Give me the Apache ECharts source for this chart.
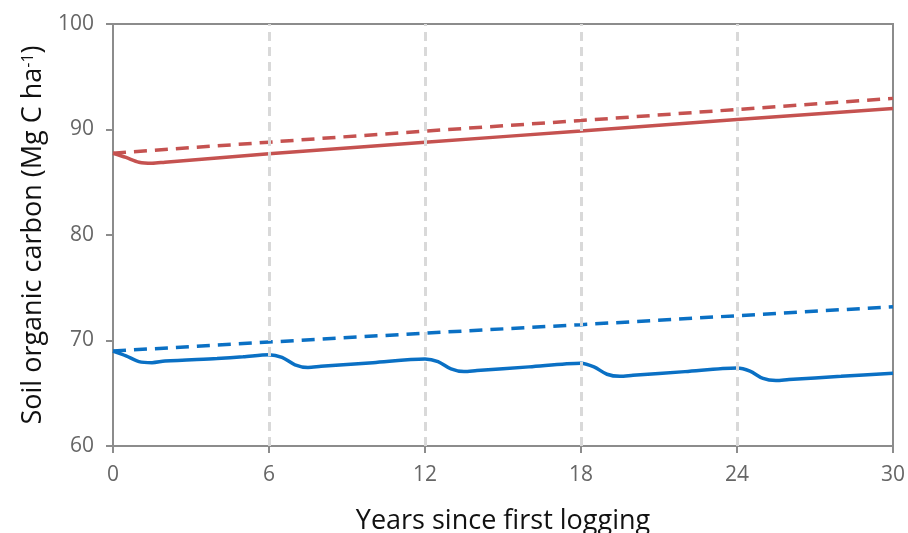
<!DOCTYPE html>
<html>
<head>
<meta charset="utf-8">
<script src="https://cdn.jsdelivr.net/npm/echarts@6/dist/echarts.min.js"></script>
<style>
html,body{margin:0;padding:0;background:#fff;}
#main{width:908px;height:533px;}
</style>
</head>
<body>
<div id="main"></div>
<script>
// Data (x = years since first logging, y = Mg C ha-1)
var xTicks = [0, 6, 12, 18, 24, 30];
var yTicks = [60, 70, 80, 90, 100];
var gridYears = [6, 12, 18, 24];

var redSolidX = [0, 0.5, 1, 1.5, 2, 6, 12, 18, 24, 30];
var redSolidY = [87.75, 87.35, 86.9, 86.8, 86.9, 87.7, 88.8, 89.85, 90.95, 92.0];

var redDashX = [0, 6, 12, 18, 24, 30];
var redDashY = [87.75, 88.8, 89.85, 90.85, 91.9, 92.95];

var blueDashX = [0, 6, 12, 18, 24, 30];
var blueDashY = [69.0, 69.85, 70.7, 71.5, 72.35, 73.2];

var blueSolidX = [0, 0.5, 1, 1.5, 2, 4, 5, 6, 6.5, 7, 7.5, 8, 10, 12, 12.5, 13, 13.5, 14, 16, 18, 18.5, 19, 19.5, 20, 22, 24, 24.5, 25, 25.5, 26, 28, 30];
var blueSolidY = [69.0, 68.55, 68.0, 67.9, 68.05, 68.3, 68.45, 68.65, 68.4, 67.7, 67.45, 67.55, 67.9, 68.25, 68.0, 67.3, 67.05, 67.15, 67.5, 67.85, 67.5, 66.8, 66.6, 66.7, 67.05, 67.4, 67.1, 66.4, 66.2, 66.3, 66.6, 66.9];

function pairs(xs, ys) { return xs.map(function (x, i) { return [x, ys[i]]; }); }

var RED = '#C55250';
var BLUE = '#0A70C4';
var FONT = "'Open Sans', 'Noto Sans', sans-serif";
var AXIS = '#8c8c8c';

var chart = echarts.init(document.getElementById('main'), null, {renderer: 'canvas'});
chart.setOption({
  animation: false,
  grid: {left: 113, right: 15, top: 24, bottom: 87, outerBoundsMode: 'none', containLabel: false,
    show: true, borderColor: AXIS, borderWidth: 2, backgroundColor: 'transparent'},
  xAxis: {
    type: 'value', min: 0, max: 30, interval: 6,
    name: 'Years since first logging', nameLocation: 'middle', nameGap: 62,
    nameTextStyle: {fontFamily: FONT, fontSize: 27, color: '#111'},
    axisLine: {show: true, lineStyle: {color: AXIS, width: 2}},
    axisTick: {show: true, length: 7, lineStyle: {color: AXIS, width: 2}},
    axisLabel: {fontFamily: FONT, fontSize: 21, color: '#666', margin: 19},
    splitLine: {show: false}
  },
  yAxis: {
    type: 'value', min: 60, max: 100, interval: 10,
    name: 'Soil organic carbon (Mg C ha{sup|-1})', nameLocation: 'middle', nameGap: 64, nameRotate: 90,
    nameTextStyle: {fontFamily: FONT, fontSize: 27, color: '#111',
      rich: {sup: {fontFamily: FONT, fontSize: 16, color: '#111', verticalAlign: 'top', padding: [0, 0, 11, 0]}}},
    axisLine: {show: true, lineStyle: {color: AXIS, width: 2}},
    axisTick: {show: true, length: 7, lineStyle: {color: AXIS, width: 2}},
    axisLabel: {fontFamily: FONT, fontSize: 21, color: '#666', margin: 19},
    splitLine: {show: false}
  },
  series: [
    {type: 'line', data: [], silent: true, z: 1,
      markLine: {silent: true, symbol: 'none', label: {show: false},
        lineStyle: {color: '#d9d9d9', width: 3, type: [9, 6]},
        data: gridYears.map(function (v) { return {xAxis: v}; })}},
    {type: 'line', data: pairs(redDashX, redDashY), showSymbol: false, lineStyle: {color: RED, width: 3.5, type: [13, 8]}, z: 3},
    {type: 'line', data: pairs(redSolidX, redSolidY), showSymbol: false, smooth: 0.3, lineStyle: {color: RED, width: 3.5}, z: 3},
    {type: 'line', data: pairs(blueDashX, blueDashY), showSymbol: false, lineStyle: {color: BLUE, width: 3.5, type: [13, 8]}, z: 3},
    {type: 'line', data: pairs(blueSolidX, blueSolidY), showSymbol: false, smooth: 0.3, lineStyle: {color: BLUE, width: 3.5}, z: 3}
  ]
});
</script>
</body>
</html>
